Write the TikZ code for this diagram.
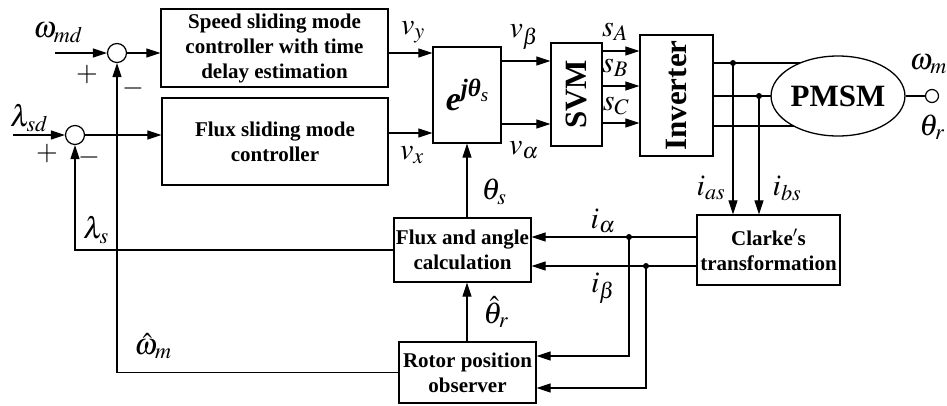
\documentclass[tikz,border=0pt]{standalone}
\usepackage{amsmath}
\usepackage{mathptmx}
\usepackage{fontspec}
\setmainfont{Liberation Serif}
\usetikzlibrary{arrows.meta,shapes.geometric,backgrounds}
\newcommand\myboxfont{\fontsize{21}{25}\selectfont\bfseries}
\newcommand\mybigfont{\fontsize{31}{34}\selectfont\bfseries}
\newcommand\mylblfont{\fontsize{30}{32}\selectfont}
\begin{document}
\begin{tikzpicture}[x=1pt,y=-1pt,
  box/.style={draw, line width=1.3pt, inner sep=0pt, align=center, font=\myboxfont},
  conn/.style={line width=1.2pt},
  arr/.style={conn, -{Triangle[length=14pt,width=9pt]}},
  lbl/.style={font=\mylblfont, inner sep=0pt},
  pm/.style={font=\fontsize{28}{30}\selectfont, inner sep=0pt},
  jdot/.style={circle, fill, inner sep=0pt, minimum size=6pt},
  sumj/.style={circle, draw, line width=1.2pt, inner sep=0pt, minimum size=19pt}]
\useasboundingbox (0,0) rectangle (947,405);
% blocks
\node[box, minimum width=227pt, minimum height=78pt] (speed) at (274.5,48) {Speed sliding mode\\controller with time\\delay estimation};
\node[box, minimum width=226pt, minimum height=87pt] (flux) at (275,141.5) {Flux sliding mode\\controller};
\node[box, minimum width=68pt, minimum height=96pt] (ebox) at (467,95) {\fontsize{34}{36}\selectfont\bfseries\itshape e\raisebox{14pt}{\fontsize{25}{27}\selectfont jθ\raisebox{-5pt}{\fontsize{19}{20}\selectfont\mdseries s}}};
\node[box, minimum width=51pt, minimum height=103pt] (svm) at (576.5,94.5) {};
\node[font=\mybigfont, rotate=90, inner sep=0pt] (svmt) at (svm.center) {SVM};
\node[box, minimum width=73pt, minimum height=121pt] (inv) at (676.5,95.5) {};
\node[font=\mybigfont, rotate=90, inner sep=0pt] (invt) at (inv.center) {Inverter};
\node[box, minimum width=143pt, minimum height=70pt] (clarke) at (768.5,250) {Clarke$'$s\\transformation};
\node[box, minimum width=137pt, minimum height=64pt] (fac) at (462.5,250) {Flux and angle\\calculation};
\node[box, minimum width=137pt, minimum height=61pt] (rpo) at (467.5,372.5) {Rotor position\\observer};
\node[ellipse, draw, line width=1.3pt, fill=white, minimum width=104pt, minimum height=80pt, inner sep=0pt, font=\mybigfont] (pmsm) at (838,96) {PMSM};
\node[circle, draw, line width=1.2pt, minimum size=13pt, inner sep=0pt] (out) at (932,96) {};
% summing junctions
\node[sumj] (s1) at (117,53) {};
\node[sumj] (s2) at (75,135) {};
% helper coordinates
\coordinate (wmd) at (55,53);
\coordinate (lsd) at (13,135);
\coordinate (vx) at (0,133);
\coordinate (vb) at (0,61);
\coordinate (va) at (0,124);
\coordinate (sa) at (0,51);
\coordinate (sb) at (0,86);
\coordinate (sc) at (0,123);
\coordinate (la) at (0,63);
\coordinate (lb) at (0,96);
\coordinate (lc) at (0,126);
\coordinate (dA) at (733,63);
\coordinate (dB) at (759,96);
\coordinate (ia) at (629,237);
\coordinate (ib) at (646,266);
\coordinate (ra) at (629,356);
\coordinate (rb) at (646,388);
% inverter to motor lines (behind the ellipse)
\begin{scope}[on background layer]
\draw[conn] (inv.east |- la) -- (pmsm.center |- la);
\draw[conn] (inv.east |- lb) -- (pmsm.center |- lb);
\draw[conn] (inv.east |- lc) -- (pmsm.center |- lc);
\end{scope}
\node[jdot] (jA) at (dA) {};
\node[jdot] (jB) at (dB) {};
\draw[arr] (jA.center) -- (jA.center |- clarke.north);
\draw[arr] (jB.center) -- (jB.center |- clarke.north);
\draw[conn] (pmsm.east) -- (out.west);
% references and sums
\draw[arr] (wmd) -- (s1.west);
\draw[arr] (lsd) -- (s2.west);
\draw[arr] (s1.east) -- (speed.west |- s1);
\draw[arr] (s2.east) -- (flux.west |- s2);
% controllers to rotation
\draw[arr] (speed.east |- s1) -- (ebox.west |- s1);
\draw[arr] (flux.east |- vx) -- (ebox.west |- vx);
\draw[arr] (ebox.east |- vb) -- (svm.west |- vb);
\draw[arr] (ebox.east |- va) -- (svm.west |- va);
\draw[arr] (svm.east |- sa) -- (inv.west |- sa);
\draw[arr] (svm.east |- sb) -- (inv.west |- sb);
\draw[arr] (svm.east |- sc) -- (inv.west |- sc);
% Clarke outputs
\node[jdot] (jia) at (ia) {};
\node[jdot] (jib) at (ib) {};
\draw[conn] (clarke.west |- ia) -- (jia.center);
\draw[arr] (jia.center) -- (fac.east |- ia);
\draw[conn] (clarke.west |- ib) -- (jib.center);
\draw[arr] (jib.center) -- (fac.east |- ib);
\draw[arr] (jia.center) -- (ra) -- (rpo.east |- ra);
\draw[arr] (jib.center) -- (rb) -- (rpo.east |- rb);
% angle paths
\draw[arr] (ebox.south |- fac.north) -- (ebox.south);
\draw[arr] (ebox.south |- rpo.north) -- (ebox.south |- fac.south);
% feedbacks
\draw[arr] (fac.west) -- (s2 |- fac.west) -- (s2.south);
\draw[arr] (rpo.west) -- (s1 |- rpo.west) -- (s1.south);
% labels
\node[lbl] (Lwmd) at (58,33) {$\omega_{md}$};
\node[lbl] (Llsd) at (29,118) {$\lambda_{sd}$};
\node[pm] (p1) at (87,75) {$+$};
\node[pm] (m1) at (133,88) {$-$};
\node[pm] (p2) at (47,154) {$+$};
\node[pm] (m2) at (89,157) {$-$};
\node[lbl] (Lls) at (96,230) {$\lambda_s$};
\node[lbl] (Lwm) at (153,346) {$\hat{\omega}_m$};
\node[lbl] (Lvy) at (413,32) {$v_y$};
\node[lbl] (Lvx) at (412,155) {$v_x$};
\node[lbl] (Lvb) at (524,37) {$v_\beta$};
\node[lbl] (Lva) at (524,150) {$v_\alpha$};
\node[lbl] (Lsa) at (615,32) {$s_A$};
\node[lbl] (Lsb) at (615,68) {$s_B$};
\node[lbl] (Lsc) at (616,106) {$s_C$};
\node[lbl] (Lths) at (494,192) {$\theta_s$};
\node[lbl] (Lthr) at (496,312) {$\hat{\theta}_r$};
\node[lbl] (Lia) at (603,221) {$i_\alpha$};
\node[lbl] (Lib) at (603,288) {$i_\beta$};
\node[lbl] (Lias) at (711,188) {$i_{as}$};
\node[lbl] (Libs) at (787,188) {$i_{bs}$};
\node[lbl, anchor=east] (Lwo) at (947,64) {$\omega_m$};
\node[lbl] (Ltho) at (932,127) {$\theta_r$};
\end{tikzpicture}
\end{document}
